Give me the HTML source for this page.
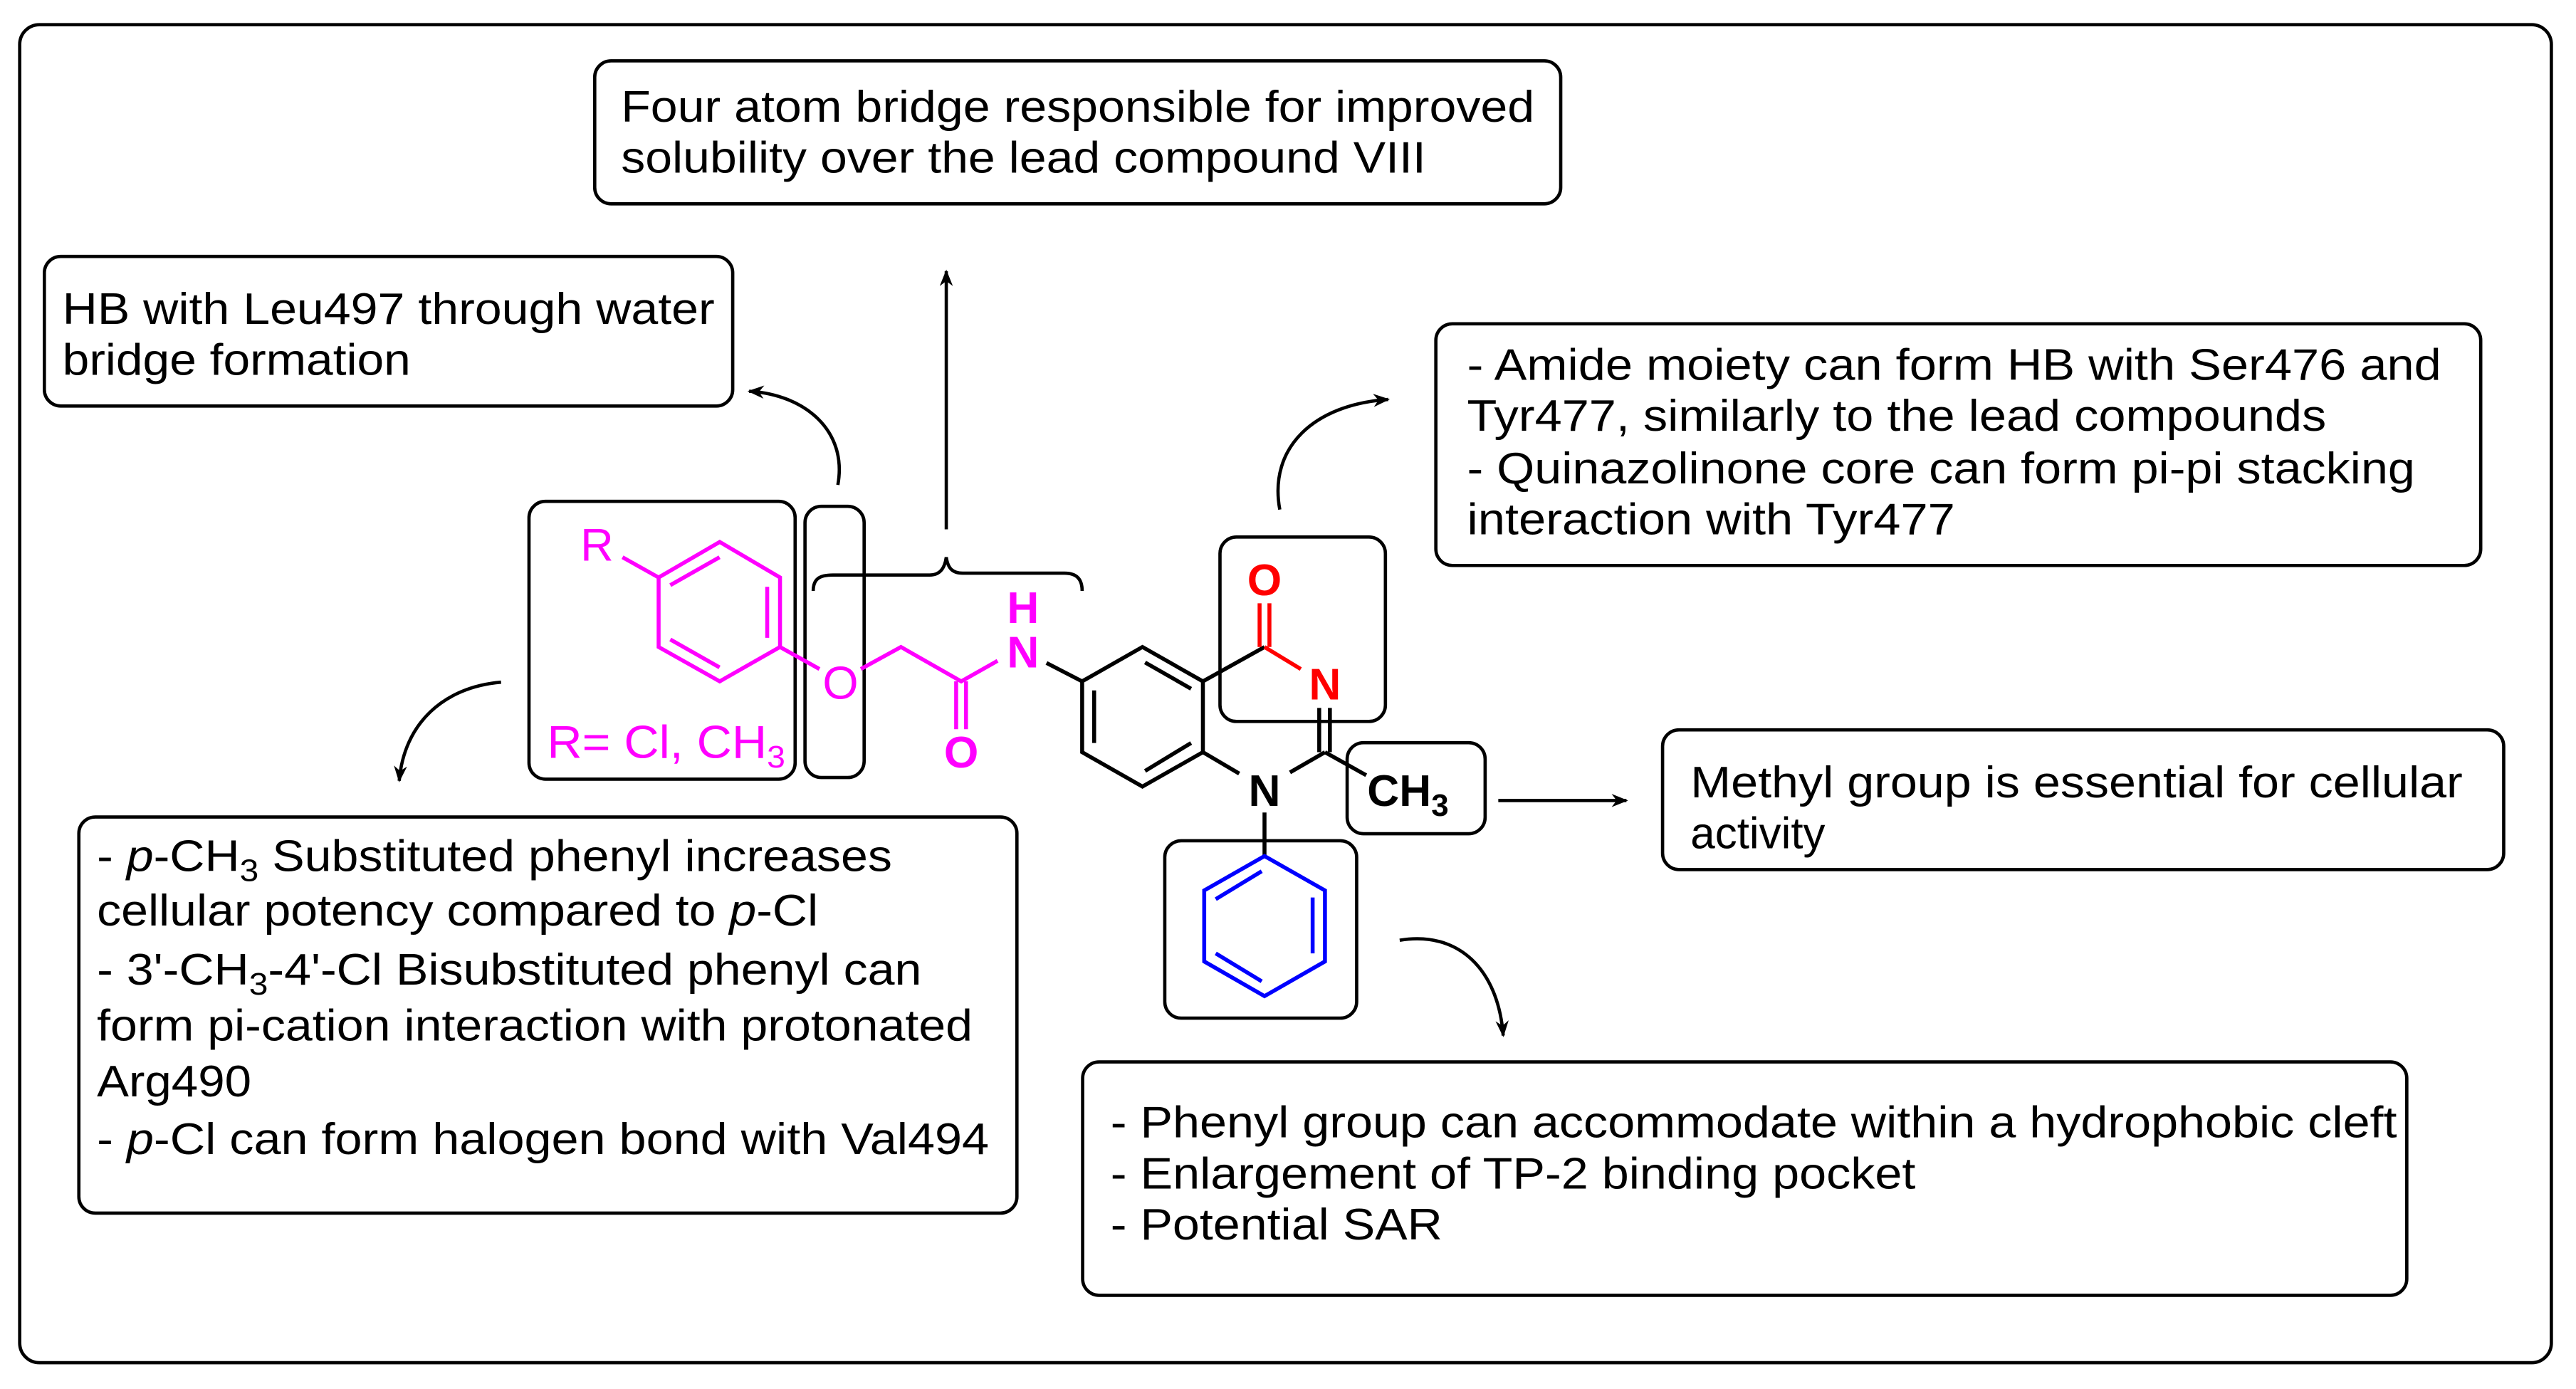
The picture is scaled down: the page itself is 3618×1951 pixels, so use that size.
<!DOCTYPE html>
<html><head><meta charset="utf-8"><style>
html,body{margin:0;padding:0;background:#fff;}
svg{display:block;}
text{font-family:"Liberation Sans",Arial,sans-serif;}
</style></head><body>
<svg width="3618" height="1951" viewBox="0 0 1568 845" preserveAspectRatio="none" xmlns="http://www.w3.org/2000/svg">
<defs>
<marker id="ah" markerWidth="10" markerHeight="10" refX="9" refY="5" orient="auto" markerUnits="userSpaceOnUse">
<path d="M0,1 L10,5 L0,9 L3,5 Z" fill="#000"/>
</marker>
</defs>
<rect x="0" y="0" width="1568" height="845" fill="#fff"/>
<rect x="12" y="15" width="1541" height="814" rx="12" fill="none" stroke="#000" stroke-width="2"/>

<g fill="none" stroke="#000" stroke-width="2">
<rect x="362" y="37" width="588" height="87" rx="10"/>
<rect x="27" y="156" width="419" height="91" rx="10"/>
<rect x="874" y="197" width="636" height="147" rx="10"/>
<rect x="1012" y="444" width="512" height="85" rx="10"/>
<rect x="48" y="497" width="571" height="241" rx="10"/>
<rect x="659" y="646" width="806" height="142" rx="10"/>
<rect x="322" y="305" width="162" height="169" rx="10"/>
<rect x="490" y="308" width="36" height="165" rx="10"/>
<rect x="742.6" y="326.7" width="100.7" height="112.2" rx="10"/>
<rect x="820" y="451.8" width="84" height="55.4" rx="10"/>
<rect x="709" y="511.5" width="116.8" height="107.9" rx="10"/>
</g>

<g font-size="27" fill="#000">
<text x="378" y="74" textLength="556" lengthAdjust="spacingAndGlyphs">Four atom bridge responsible for improved</text>
<text x="378" y="105" textLength="490" lengthAdjust="spacingAndGlyphs">solubility over the lead compound VIII</text>
<text x="38" y="197" textLength="397" lengthAdjust="spacingAndGlyphs">HB with Leu497 through water</text>
<text x="38" y="228" textLength="212" lengthAdjust="spacingAndGlyphs">bridge formation</text>
<text x="893" y="231" textLength="593" lengthAdjust="spacingAndGlyphs">- Amide moiety can form HB with Ser476 and</text>
<text x="893" y="262" textLength="523" lengthAdjust="spacingAndGlyphs">Tyr477, similarly to the lead compounds</text>
<text x="893" y="294" textLength="577" lengthAdjust="spacingAndGlyphs">- Quinazolinone core can form pi-pi stacking</text>
<text x="893" y="325" textLength="297" lengthAdjust="spacingAndGlyphs">interaction with Tyr477</text>
<text x="1029" y="485" textLength="470" lengthAdjust="spacingAndGlyphs">Methyl group is essential for cellular</text>
<text x="1029" y="516" textLength="82" lengthAdjust="spacingAndGlyphs">activity</text>
<text x="59" y="530" textLength="484" lengthAdjust="spacingAndGlyphs">- <tspan font-style="italic">p</tspan>-CH<tspan font-size="19" dy="6">3</tspan><tspan dy="-6"> Substituted phenyl increases</tspan></text>
<text x="59" y="563" textLength="439" lengthAdjust="spacingAndGlyphs">cellular potency compared to <tspan font-style="italic">p</tspan>-Cl</text>
<text x="59" y="599" textLength="502" lengthAdjust="spacingAndGlyphs">- 3'-CH<tspan font-size="19" dy="6">3</tspan><tspan dy="-6">-4'-Cl Bisubstituted phenyl can</tspan></text>
<text x="59" y="633" textLength="533" lengthAdjust="spacingAndGlyphs">form pi-cation interaction with protonated</text>
<text x="59" y="667" textLength="94" lengthAdjust="spacingAndGlyphs">Arg490</text>
<text x="59" y="702" textLength="543" lengthAdjust="spacingAndGlyphs">- <tspan font-style="italic">p</tspan>-Cl can form halogen bond with Val494</text>
<text x="676" y="692" textLength="783" lengthAdjust="spacingAndGlyphs">- Phenyl group can accommodate within a hydrophobic cleft</text>
<text x="676" y="723" textLength="490" lengthAdjust="spacingAndGlyphs">- Enlargement of TP-2 binding pocket</text>
<text x="676" y="754" textLength="202" lengthAdjust="spacingAndGlyphs">- Potential SAR</text>
</g>

<g fill="none" stroke="#000" stroke-width="2">
<path d="M576,322 L576,165" marker-end="url(#ah)"/>
<path d="M510,295 C516,262 490,240 456,238" marker-end="url(#ah)"/>
<path d="M305,415 C270,418 246,440 243,475" marker-end="url(#ah)"/>
<path d="M779,310 C772,272 800,246 845,243" marker-end="url(#ah)"/>
<path d="M912,487 L990,487" marker-end="url(#ah)"/>
<path d="M852,572 C888,566 912,590 915,630" marker-end="url(#ah)"/>
<path d="M495,359.5 C495,352 499,349.8 507,349.8 L566,349.8 C572,349.8 575,346 576,339 C577,346 580,348.7 586,348.7 L648,348.7 C655,348.7 658.7,352 658.7,359.5"/>
</g>

<g stroke="#f0f" stroke-width="2.4" fill="none">
<polygon points="438.1,329.7 474.8,351.3 474.8,393.6 438.1,414.5 400.9,393.6 400.9,351.3"/>
<line x1="408" y1="356" x2="438" y2="339"/>
<line x1="467" y1="357" x2="467" y2="388"/>
<line x1="408" y1="389" x2="438" y2="406"/>
<line x1="378.9" y1="339" x2="400.9" y2="351.3"/>
<line x1="474.8" y1="393.6" x2="498.8" y2="407"/>
<polyline points="524,407 548.4,393.6 585.1,414.5 607.2,402"/>
<line x1="582" y1="414.5" x2="582" y2="443.6"/>
<line x1="588" y1="414.5" x2="588" y2="443.6"/>
</g>
<g fill="#f0f" font-size="28">
<text x="363.4" y="341" text-anchor="middle">R</text>
<text x="511.6" y="425" text-anchor="middle">O</text>
<text x="333" y="461" textLength="145" lengthAdjust="spacingAndGlyphs">R= Cl, CH<tspan font-size="19" dy="6">3</tspan></text>
</g>
<g fill="#f0f" font-size="27" font-weight="bold" text-anchor="middle">
<text x="585.1" y="467">O</text>
<text x="622.7" y="406">N</text>
<text x="622.7" y="379">H</text>
</g>

<g stroke="#000" stroke-width="2.4" fill="none">
<line x1="637" y1="403.3" x2="658.7" y2="414.5"/>
<polygon points="695.4,393.6 732.2,414.5 732.2,457.6 695.4,478.5 658.7,457.6 658.7,414.5"/>
<line x1="697" y1="403" x2="725" y2="419"/>
<line x1="666" y1="420" x2="666" y2="452"/>
<line x1="697" y1="469" x2="725" y2="452"/>
<line x1="732.2" y1="414.5" x2="769.7" y2="393.6"/>
<line x1="806.5" y1="457.6" x2="785.2" y2="469.9"/>
<line x1="754.3" y1="470.6" x2="732.2" y2="457.6"/>
<line x1="806.5" y1="457.6" x2="831.6" y2="471.6"/>
<line x1="769.7" y1="494.3" x2="769.7" y2="520.2"/>
<line x1="803" y1="430.7" x2="803" y2="457.6"/>
<line x1="809.5" y1="430.7" x2="809.5" y2="457.6"/>
</g>
<g stroke="#f00" stroke-width="2.4" fill="none">
<line x1="769.7" y1="393.6" x2="791.8" y2="407"/>
<line x1="766.7" y1="367" x2="766.7" y2="393.6"/>
<line x1="772.7" y1="367" x2="772.7" y2="393.6"/>
</g>
<g font-size="27" font-weight="bold" text-anchor="middle">
<text x="769.7" y="362" fill="#f00">O</text>
<text x="806.5" y="425.6" fill="#f00">N</text>
<text x="769.7" y="490.3" fill="#000">N</text>
<text x="857" y="490.3" fill="#000">CH<tspan font-size="19" dy="6">3</tspan></text>
</g>

<g stroke="#00f" stroke-width="2.4" fill="none">
<polygon points="769.7,520.8 806.5,541.7 806.5,584.9 769.7,606 733,584.9 733,541.7"/>
<line x1="740" y1="547" x2="768" y2="530"/>
<line x1="799" y1="546" x2="799" y2="580"/>
<line x1="740" y1="580" x2="768" y2="597"/>
</g>
</svg>
</body></html>
